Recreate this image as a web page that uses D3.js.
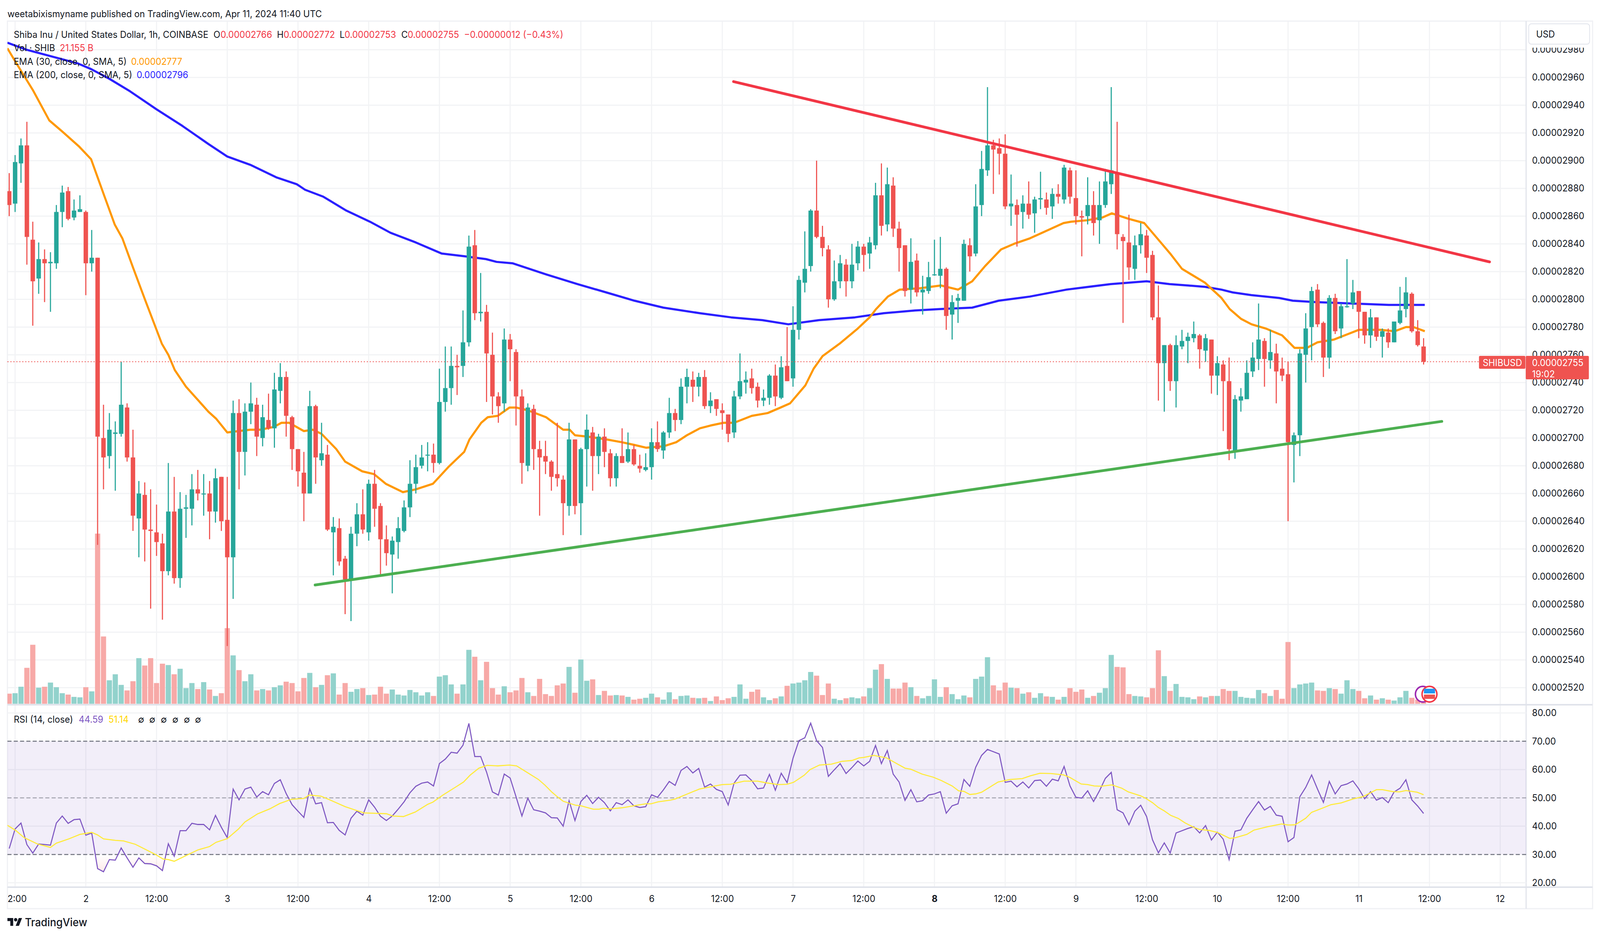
<!DOCTYPE html>
<html><head><meta charset="utf-8">
<script src="https://cdn.jsdelivr.net/npm/d3@7"></script>
<style>html,body{margin:0;padding:0;background:#fff;width:100%;height:100%;overflow:hidden}svg{display:block;width:100vw;height:100vh}text{font-family:Inter,"Noto Sans","DejaVu Sans",sans-serif;fill:#131722}</style>
</head><body><svg id="c" viewBox="0 0 4310 2396" preserveAspectRatio="none"></svg>
<script>
// Prices are in units of 1e-8 USD. Index 0 = Apr 1 11:00, one candle per hour.
const opens=[2878,2869,2898,2911,2843,2815,2829,2826,2826,2863,
2878,2859,2863,2863,2826,2830,2700,2687,2703,2703,
2722,2686,2642,2659,2634,2632,2624,2604,2647,2599,
2649,2649,2663,2660,2660,2647,2672,2641,2614,2718,
2690,2719,2724,2700,2713,2707,2734,2744,2715,2692,
2675,2660,2723,2684,2688,2632,2635,2613,2598,2631,
2645,2632,2667,2651,2627,2616,2625,2633,2650,2667,
2680,2688,2688,2682,2726,2736,2752,2752,2769,2839,
2790,2791,2760,2730,2725,2771,2762,2730,2680,2721,
2692,2687,2683,2674,2670,2651,2699,2653,2692,2704,
2687,2701,2689,2671,2687,2683,2692,2680,2677,2679,
2697,2691,2704,2718,2713,2737,2742,2737,2744,2723,
2728,2720,2717,2704,2730,2740,2743,2737,2727,2729,
2745,2729,2752,2743,2778,2812,2824,2864,2845,2836,
2800,2813,2825,2813,2826,2838,2833,2839,2875,2854,
2882,2851,2839,2807,2828,2805,2806,2818,2817,2822,
2789,2799,2799,2839,2833,2868,2893,2911,2909,2905,
2867,2868,2863,2869,2862,2872,2872,2867,2876,2872,
2893,2873,2860,2860,2868,2857,2868,2883,2891,2845,
2841,2822,2839,2846,2832,2787,2754,2767,2741,2766,
2770,2772,2774,2763,2771,2745,2753,2741,2691,2727,
2728,2748,2757,2770,2756,2761,2750,2746,2695,2702,
2760,2780,2807,2783,2758,2801,2779,2795,2797,2806,
2791,2774,2787,2773,2776,2769,2783,2793,2804,2777,
2766];
const closes=[2868,2899,2911,2845,2813,2829,2826,2827,2863,2877,
2858,2864,2865,2826,2830,2701,2686,2706,2704,2724,
2686,2644,2660,2634,2633,2625,2604,2647,2599,2649,
2650,2663,2660,2660,2647,2671,2640,2614,2718,2690,
2719,2725,2701,2715,2707,2735,2744,2716,2692,2676,
2660,2723,2686,2689,2634,2636,2611,2598,2631,2645,
2634,2667,2649,2627,2617,2626,2635,2650,2667,2679,
2686,2688,2682,2726,2736,2752,2751,2769,2838,2790,
2791,2761,2730,2723,2771,2764,2730,2682,2722,2692,
2686,2683,2672,2671,2653,2699,2651,2692,2706,2687,
2701,2690,2671,2687,2682,2692,2681,2678,2679,2697,
2692,2704,2718,2713,2737,2744,2737,2744,2723,2727,
2721,2718,2703,2730,2741,2742,2736,2727,2729,2745,
2730,2751,2741,2778,2814,2822,2864,2845,2837,2800,
2813,2826,2813,2825,2838,2832,2841,2875,2853,2883,
2851,2837,2806,2827,2805,2807,2816,2818,2822,2788,
2798,2801,2840,2831,2867,2894,2911,2908,2905,2867,
2869,2861,2869,2861,2872,2873,2866,2876,2874,2895,
2874,2860,2859,2868,2855,2868,2885,2893,2847,2842,
2823,2839,2847,2830,2787,2754,2767,2741,2767,2770,
2773,2775,2764,2772,2745,2754,2741,2692,2728,2730,
2747,2758,2771,2757,2762,2748,2745,2697,2702,2761,
2779,2806,2782,2758,2801,2777,2795,2795,2805,2791,
2774,2787,2773,2777,2769,2784,2792,2805,2777,2767,
2755];
const highs=[2891,2904,2916,2928,2856,2841,2836,2834,2868,2882,
2881,2872,2875,2864,2850,2830,2724,2718,2712,2755,
2725,2706,2669,2668,2663,2652,2631,2682,2672,2661,
2659,2674,2677,2674,2669,2678,2672,2672,2727,2728,
2725,2740,2729,2724,2732,2747,2754,2748,2716,2692,
2690,2734,2724,2711,2695,2643,2642,2615,2636,2653,
2663,2670,2677,2653,2637,2629,2643,2655,2684,2688,
2695,2697,2696,2750,2766,2766,2760,2792,2846,2850,
2819,2796,2776,2733,2779,2775,2764,2735,2725,2724,
2698,2698,2684,2711,2673,2711,2699,2693,2717,2708,
2703,2707,2692,2689,2707,2704,2695,2688,2689,2707,
2712,2705,2729,2721,2743,2750,2748,2747,2749,2733,
2728,2725,2717,2734,2761,2748,2750,2740,2735,2746,
2753,2759,2780,2795,2817,2849,2865,2900,2853,2839,
2828,2832,2829,2840,2842,2840,2845,2884,2898,2895,
2888,2856,2839,2844,2833,2817,2827,2843,2845,2823,
2803,2804,2843,2844,2883,2907,2953,2915,2916,2919,
2890,2872,2875,2885,2874,2892,2877,2880,2883,2897,
2895,2893,2864,2888,2878,2885,2894,2953,2928,2847,
2861,2846,2855,2850,2835,2810,2767,2768,2774,2778,
2776,2784,2775,2775,2771,2759,2756,2758,2731,2736,
2756,2769,2797,2772,2778,2768,2758,2755,2704,2764,
2790,2809,2811,2784,2803,2804,2797,2829,2814,2806,
2791,2793,2787,2779,2779,2784,2809,2816,2805,2785,
2772];
const lows=[2860,2863,2884,2825,2781,2804,2798,2791,2822,2852,
2857,2857,2863,2803,2820,2623,2663,2678,2662,2701,
2683,2633,2614,2611,2577,2615,2569,2601,2595,2592,
2628,2637,2655,2644,2627,2639,2633,2550,2584,2663,
2673,2710,2687,2694,2706,2693,2725,2701,2677,2665,
2640,2660,2667,2680,2633,2601,2608,2573,2568,2622,
2631,2626,2636,2600,2608,2588,2613,2632,2643,2660,
2678,2676,2675,2681,2719,2724,2731,2744,2766,2785,
2784,2726,2717,2711,2719,2741,2709,2667,2676,2677,
2644,2674,2662,2665,2630,2644,2645,2630,2665,2662,
2674,2679,2665,2665,2682,2682,2680,2675,2676,2670,
2690,2685,2700,2705,2710,2725,2726,2730,2721,2718,
2716,2706,2697,2700,2728,2732,2732,2722,2723,2724,
2723,2728,2741,2737,2771,2805,2820,2844,2831,2794,
2799,2808,2802,2808,2821,2820,2822,2836,2846,2849,
2845,2820,2802,2797,2802,2789,2804,2817,2808,2778,
2771,2783,2799,2820,2831,2860,2889,2876,2890,2865,
2853,2838,2851,2858,2848,2865,2861,2858,2869,2869,
2869,2854,2831,2854,2846,2840,2866,2876,2836,2783,
2814,2814,2833,2819,2785,2727,2719,2734,2722,2764,
2754,2769,2750,2755,2732,2731,2705,2684,2685,2719,
2728,2744,2749,2737,2750,2725,2741,2640,2668,2687,
2740,2756,2780,2744,2750,2775,2772,2794,2793,2772,
2768,2765,2770,2758,2765,2769,2782,2787,2776,2766,
2753];
// Volume in billions of SHIB
const volumes=[44,46,74,156,256,70,74,92,72,46,
40,30,28,72,54,738,292,102,128,82,
58,98,198,166,198,90,174,168,128,152,
68,90,64,94,62,34,46,328,210,146,
98,128,58,64,58,72,80,96,90,54,
112,134,72,82,124,132,40,90,52,64,
68,38,40,74,44,62,40,36,60,50,
36,50,34,118,124,84,44,84,234,204,
102,182,68,40,76,50,58,112,50,34,
108,42,34,80,88,160,48,192,100,106,
38,56,36,38,36,30,18,22,26,44,
28,18,50,20,34,36,26,24,26,12,
32,16,24,30,84,22,52,62,28,16,
24,32,78,88,92,102,138,122,38,88,
22,16,24,28,24,32,68,148,172,108,
66,66,92,72,34,24,34,106,30,72,
42,20,36,28,108,118,202,80,58,92,
70,68,44,50,26,46,32,30,18,30,
68,52,62,26,34,48,68,212,160,158,
42,34,32,28,68,232,120,56,86,30,
28,20,32,28,34,34,64,56,56,30,
26,24,60,46,34,60,22,268,68,84,
88,92,58,56,68,64,44,102,64,56,
24,36,18,24,18,14,28,56,26,18,
21];
const rsiValues=[32.1,39.0,41.1,33.5,30.5,33.7,33.5,33.3,41.1,43.6,
41.0,42.3,42.5,36.8,37.6,25.0,23.9,28.2,28.0,32.3,
28.8,25.5,28.8,26.8,26.7,26.0,24.3,33.8,29.4,38.4,
38.4,41.0,40.6,40.6,38.7,43.8,39.6,35.9,53.1,49.3,
53.1,53.8,50.3,52.2,51.1,55.1,56.4,51.5,47.6,45.3,
43.1,53.2,47.9,48.3,41.2,41.3,38.5,36.9,42.8,45.3,
43.9,49.3,46.7,43.5,42.0,43.6,46.0,48.6,51.8,54.1,
55.2,55.6,54.2,62.1,63.7,66.1,65.8,68.6,76.3,64.6,
64.6,59.1,52.1,51.0,58.4,57.0,50.4,43.6,49.9,45.8,
45.3,44.7,43.0,42.9,40.0,49.0,42.0,48.7,50.9,48.0,
50.2,48.3,45.4,48.3,47.6,49.3,47.2,46.6,46.9,51.1,
50.2,52.8,55.8,54.4,59.7,61.1,58.8,60.4,53.8,54.9,
53.0,52.2,47.5,55.2,58.0,58.1,56.1,53.2,53.5,58.3,
52.7,58.7,55.4,64.0,70.2,71.2,76.4,70.2,67.8,57.6,
59.9,62.1,58.6,60.7,63.0,61.3,62.9,68.5,62.1,66.7,
58.4,55.6,49.1,52.9,48.6,49.0,51.0,51.4,52.2,44.6,
47.2,47.9,56.5,54.1,60.8,65.0,67.1,66.3,65.5,55.5,
55.9,53.9,55.6,53.5,56.1,56.3,54.1,56.6,56.0,61.1,
54.2,50.2,49.9,52.5,48.7,52.5,56.9,59.0,45.8,44.7,
40.5,45.3,47.4,43.4,35.2,30.6,34.1,30.5,37.6,38.4,
39.2,39.8,37.6,40.2,35.1,37.9,35.4,28.2,38.2,38.7,
42.8,45.8,48.7,45.7,47.0,43.9,43.5,34.5,36.0,50.4,
53.7,58.1,53.1,48.4,55.8,51.4,54.3,54.9,56.0,53.2,
49.7,52.2,49.2,50.1,48.3,52.1,53.4,56.4,49.3,47.1,
44.5];
// Readings of the smoothed lines as [candle index, value]
const ema30=[[-0.3,2981],[1.1,2971],[4,2951],[6.8,2929],[9,2921],[11.9,2910],[13.9,2901],[16.1,2875],[17.9,2854],[19.2,2844],[21,2823],[23.2,2798],[25.9,2768],[27,2760],[28.1,2749],[30,2737],[33.8,2719],[35.1,2714],[37,2704],[38.9,2705],[40.9,2706],[42.6,2706],[44.9,2708],[46.2,2711],[47.5,2711],[50,2705],[51.5,2706],[53,2703],[55.5,2692],[57,2683],[59.9,2676],[61.9,2674],[63.9,2667],[66.8,2661],[69,2663],[71.9,2667],[74.5,2679],[77.2,2690],[78.1,2699],[80.1,2711],[81.2,2715],[82.9,2716],[84.9,2722],[86,2722],[88,2720],[91.1,2715],[94,2706],[95.1,2706],[96,2702],[98.2,2701],[101.3,2699],[103.9,2697],[106.1,2695],[108.1,2693],[111,2694],[113.2,2697],[115,2702],[117.2,2707],[119,2709],[121.2,2711],[123,2711],[126,2716],[128.7,2718],[130.9,2722],[132.5,2725],[135.1,2738],[136.5,2750],[138,2759],[140.9,2768],[144,2779],[146,2787],[147.1,2793],[149.1,2802],[151.1,2807],[154.6,2808],[158.1,2810],[161,2807],[163.4,2813],[165.6,2824],[168.3,2836],[170.5,2840],[173.2,2844],[175.8,2849],[178.9,2855],[180.2,2856],[182.9,2857],[185.5,2859],[187.1,2862],[190,2858],[192.6,2855],[194.8,2844],[197,2833],[199,2822],[202.9,2812],[205.7,2801],[207.1,2793],[209,2786],[210.8,2782],[213.2,2779],[216,2774],[218.1,2765],[220.2,2765],[222,2769],[224.8,2771],[227.2,2775],[229,2778],[232.7,2778],[235.1,2777],[237,2780],[238.3,2780],[240.2,2777]];
const ema200=[[-0.3,2985],[2.9,2980],[7.3,2975],[11.7,2970],[13.9,2966],[17,2959],[20.5,2950],[25,2937],[29.4,2925],[33.8,2912],[37,2903],[40.9,2897],[45.3,2888],[48.8,2883],[50.2,2879],[53.3,2874],[57.2,2864],[61.2,2856],[64.7,2848],[69,2841],[73.4,2833],[77.4,2831],[80.9,2829],[82.7,2827],[85.4,2826],[91.1,2818],[96.4,2811],[101.3,2805],[106.1,2799],[111,2794],[117.2,2790],[122.5,2787],[127.8,2785],[132.2,2782],[137.4,2785],[143.5,2787],[148.4,2790],[153.7,2792],[158.1,2793],[163.4,2794],[167.9,2799],[173.2,2802],[179.4,2807],[186.9,2811],[193,2813],[196.9,2811],[200,2810],[202.9,2809],[205.7,2807],[207.6,2805],[210.8,2803],[215.5,2801],[217.8,2799],[221.6,2798],[234.1,2796],[240.2,2796]];
const rsiMA=[[-0.3,40.3],[1.1,38.5],[2.5,36],[4.8,33.7],[7,32.5],[8,34],[10.1,35.5],[12,37.1],[14,37.8],[15,36.9],[16,35.5],[18,35],[19.4,34.8],[21.4,33.6],[23.5,31.4],[24.9,29.9],[26.1,28.4],[27,28.2],[28,27.6],[30.2,29.8],[32,31.6],[34,32.8],[35.1,34.3],[37,35.6],[38.9,39],[40,41.5],[42.1,44.3],[44.2,46.1],[45.9,48],[47.9,49.5],[50,49.8],[50.9,51],[52.9,50.6],[54.4,49.3],[57,46.9],[59,45.5],[60.2,44.7],[64,44.4],[65.1,43.6],[66.9,43.4],[68.9,45],[71,47.7],[71.9,48.5],[73.6,51],[75.9,54],[77.1,55.6],[78.2,58],[79.7,60.5],[81.1,61.5],[82.9,61.3],[84.9,61.6],[86.1,61.3],[87.8,59.1],[89.8,56.5],[90.9,54.5],[92.1,52],[93,50.4],[94,48.8],[96.1,47.4],[97,47.2],[99.1,46],[100.1,46],[100.8,46.3],[102,46.1],[104,46.5],[106,47.2],[108,47.9],[108.9,47.9],[110.1,48.6],[112.2,49.2],[113,49.6],[115.1,51.4],[117.1,53.1],[119.5,54.1],[121,54.7],[122.4,54.8],[124.7,55.9],[127,55.9],[128.5,55.3],[130.5,54.7],[132,54.8],[133.1,55.5],[134.9,58],[135.9,60],[137.5,61.6],[139.5,61.9],[141.3,62.9],[143,63.2],[144.2,64.1],[145,64.3],[146.7,65],[148.9,64.1],[150.6,62.1],[152,60.5],[153,60.1],[154.9,58.4],[156.8,57.3],[158.2,56.1],[160,54.2],[161.1,52.5],[162,52.3],[163,51.2],[164,51.4],[165,52],[166.1,53.4],[167.8,55.6],[169.8,56.5],[171.9,56.8],[173.3,57.8],[174.9,58.7],[176.8,58.6],[178.9,58.1],[180,57.2],[181.9,54.9],[183,54.7],[184.1,54.2],[185.3,54.1],[187.1,54.6],[188.8,53.4],[189.9,52.1],[192,50.7],[192.8,49.9],[194,48.3],[195,46.6],[196,45.4],[197.1,43.8],[198.4,42.7],[199.5,41.2],[201,39.6],[201.9,38.9],[203.6,38.5],[205,37.8],[205.9,36.9],[207.1,35.7],[208,35.9],[210,37.1],[211.2,38.6],[213.5,39.8],[215,40.4],[215.9,40.8],[217,40.4],[218.2,40.5],[219,41.5],[220,42.8],[221,44.9],[223,46.5],[224.3,47.6],[226,48.2],[228,49.6],[229.8,50.5],[230.7,51.5],[232,52.9],[233,52.9],[234.8,52.2],[235.9,52.1],[237,52.6],[238.9,52],[240,51.1]];
const resistance=[[122.9,2957],[251.2,2827]];
const support=[[51.9,2594],[243.1,2712]];
const priceTicks=[2520,2540,2560,2580,2600,2620,2640,2660,2680,2700,2720,2740,2760,2780,2800,2820,2840,2860,2880,2900,2920,2940,2960,2980];
const rsiTicks=[20,30,40,50,60,70,80];
const timeTicks=[1,13,25,37,49,61,73,85,97,109,121,133,145,157,169,181,193,205,217,229,241,253];
const timeLabels=["12:00","2","12:00","3","12:00","4","12:00","5","12:00","6","12:00","7","12:00","8","12:00","9","12:00","10","12:00","11","12:00","12"];
const boldTime="8";
const lastClose=2755;

const GREEN="#26A69A",RED="#EF5350",GRID="#F2F3F5",SEP="#E0E3EB",FS=24;
const L=20,R=4111,PT=54,PB=1803,RT=1805,RB=2271,FB=2326,FR=4290;
const x=d3.scaleLinear().domain([0,240]).range([24.8,3834.8]);
const y=d3.scaleLinear().domain([2520,2960]).range([1760.3,198.2]);
const v=d3.scaleLinear().domain([0,738]).range([1801.6,1366]);
const r=d3.scaleLinear().domain([20,80]).range([2259.8,1825]);
const svg=d3.select("#c");
const defs=svg.append("defs");
defs.append("clipPath").attr("id","main").append("rect").attr("x",L).attr("y",PT).attr("width",R-L).attr("height",PB-PT);
defs.append("clipPath").attr("id","rsi").append("rect").attr("x",L).attr("y",RT).attr("width",R-L).attr("height",RB-RT);
defs.append("clipPath").attr("id","time").append("rect").attr("x",L).attr("y",RB).attr("width",FR-L).attr("height",FB-RB);
defs.append("clipPath").attr("id","over").append("rect").attr("x",L).attr("y",RT).attr("width",R-L).attr("height",r(70)-RT);
defs.append("clipPath").attr("id","under").append("rect").attr("x",L).attr("y",r(30)).attr("width",R-L).attr("height",RB-r(30));
const g1=defs.append("linearGradient").attr("id","gOver").attr("gradientUnits","userSpaceOnUse").attr("x1",0).attr("x2",0).attr("y1",r(80)).attr("y2",r(70));
g1.append("stop").attr("offset",0).attr("stop-color","#4CAF50").attr("stop-opacity",.16);
g1.append("stop").attr("offset",1).attr("stop-color","#4CAF50").attr("stop-opacity",0);
const g2=defs.append("linearGradient").attr("id","gUnder").attr("gradientUnits","userSpaceOnUse").attr("x1",0).attr("x2",0).attr("y1",r(30)).attr("y2",r(20));
g2.append("stop").attr("offset",0).attr("stop-color","#FF5252").attr("stop-opacity",0);
g2.append("stop").attr("offset",1).attr("stop-color","#FF5252").attr("stop-opacity",.2);

const candles=opens.map((o,i)=>({i,o,c:closes[i],h:highs[i],l:lows[i],vol:volumes[i],up:closes[i]>=o}));

// Grid
const vg=svg.append("g").attr("stroke",GRID).attr("stroke-width",3);
[[PT,PB],[RT,RB]].forEach(([a,b])=>vg.append("g").selectAll("line").data(timeTicks).join("line").attr("x1",d=>x(d)).attr("x2",d=>x(d)).attr("y1",a).attr("y2",b));
svg.append("g").attr("clip-path","url(#main)").selectAll("line").data(priceTicks).join("line").attr("x1",L).attr("x2",R).attr("y1",d=>y(d)).attr("y2",d=>y(d)).attr("stroke",GRID).attr("stroke-width",3);

// Frame
svg.append("rect").attr("x",L).attr("y",PT).attr("width",FR-L).attr("height",FB-PT).attr("fill","none").attr("stroke","#EFF0F4").attr("stroke-width",3);

// Price pane: indicators under the candles, price line over them
const main=svg.append("g").attr("clip-path","url(#main)");
main.append("g").selectAll("rect").data(candles).join("rect")
 .attr("x",d=>x(d.i)-7).attr("width",14).attr("y",d=>v(d.vol)).attr("height",d=>v(0)-v(d.vol))
 .attr("fill",d=>d.up?"#92D2CC":"#F7A9A7");
const lineGen=d3.line().x(d=>x(d[0])).y(d=>y(d[1])).curve(d3.curveLinear);
main.append("path").datum(ema200).attr("d",lineGen).attr("fill","none").attr("stroke","#2A1FFF").attr("stroke-width",5.5).attr("stroke-linejoin","round");
main.append("path").datum(ema30).attr("d",lineGen).attr("fill","none").attr("stroke","#FF9800").attr("stroke-width",5.5).attr("stroke-linejoin","round");
main.append("g").selectAll("line").data(candles).join("line")
 .attr("x1",d=>x(d.i)).attr("x2",d=>x(d.i)).attr("y1",d=>y(d.h)).attr("y2",d=>y(d.l))
 .attr("stroke",d=>d.up?GREEN:RED).attr("stroke-width",3);
main.append("g").selectAll("rect").data(candles).join("rect")
 .attr("x",d=>x(d.i)-6).attr("width",12).attr("y",d=>y(Math.max(d.o,d.c))).attr("height",d=>Math.max(2.5,Math.abs(y(d.o)-y(d.c))))
 .attr("fill",d=>d.up?GREEN:RED);
main.append("line").attr("x1",L).attr("x2",3984).attr("y1",y(lastClose)).attr("y2",y(lastClose)).attr("stroke",RED).attr("stroke-width",2).attr("stroke-dasharray","3 5");
main.append("path").datum(resistance).attr("d",lineGen).attr("fill","none").attr("stroke","#F23645").attr("stroke-width",7).attr("stroke-linecap","round");
main.append("path").datum(support).attr("d",lineGen).attr("fill","none").attr("stroke","#4CAF50").attr("stroke-width",7).attr("stroke-linecap","round");

// Event icons
const ic=svg.append("g");
ic.append("circle").attr("cx",x(240)-2).attr("cy",1777).attr("r",20).attr("fill","#fff").attr("stroke","#9C27B0").attr("stroke-width",4);
ic.append("circle").attr("cx",x(241)).attr("cy",1777).attr("r",20).attr("fill","#fff").attr("stroke","#F23645").attr("stroke-width",4);
ic.append("rect").attr("x",x(241)-15).attr("y",1763).attr("width",30).attr("height",12).attr("fill","#2196F3");
ic.append("rect").attr("x",x(241)-15).attr("y",1778).attr("width",30).attr("height",11).attr("fill","#EF5350");

// Separators and right axis rule
svg.append("line").attr("x1",L).attr("x2",FR).attr("y1",1804).attr("y2",1804).attr("stroke",SEP).attr("stroke-width",4);
svg.append("line").attr("x1",L).attr("x2",FR).attr("y1",RB).attr("y2",RB).attr("stroke",SEP).attr("stroke-width",4);
svg.append("line").attr("x1",R).attr("x2",R).attr("y1",PT).attr("y2",FB).attr("stroke",SEP).attr("stroke-width",3);

// RSI pane
const rp=svg.append("g").attr("clip-path","url(#rsi)");
rp.append("rect").attr("x",L).attr("width",R-L).attr("y",r(70)).attr("height",r(30)-r(70)).attr("fill","#7E57C2").attr("fill-opacity",.1);
rp.append("g").selectAll("line").data([20,40,60,80]).join("line").attr("x1",L).attr("x2",R).attr("y1",d=>r(d)).attr("y2",d=>r(d)).attr("stroke",GRID).attr("stroke-width",3).attr("style","mix-blend-mode:multiply");
rp.append("g").selectAll("line").data([70,50,30]).join("line").attr("x1",L).attr("x2",R).attr("y1",d=>r(d)).attr("y2",d=>r(d)).attr("stroke","#787B86").attr("stroke-opacity",d=>d===50?.6:1).attr("stroke-width",2.8).attr("stroke-dasharray","11 6");
const rsiPts=rsiValues.map((d,i)=>[i,d]);
rp.append("path").attr("clip-path","url(#over)").datum(rsiPts).attr("d",d3.area().x(d=>x(d[0])).y0(r(70)).y1(d=>r(d[1]))).attr("fill","url(#gOver)");
rp.append("path").attr("clip-path","url(#under)").datum(rsiPts).attr("d",d3.area().x(d=>x(d[0])).y0(r(30)).y1(d=>r(d[1]))).attr("fill","url(#gUnder)");
const rLine=d3.line().x(d=>x(d[0])).y(d=>r(d[1]));
rp.append("path").datum(rsiPts).attr("d",rLine).attr("fill","none").attr("stroke","#7E57C2").attr("stroke-width",2.8);
rp.append("path").datum(rsiMA).attr("d",rLine).attr("fill","none").attr("stroke","#FFEB3B").attr("stroke-width",2.8);

// Axes
const styleAxis=g=>{g.select(".domain").remove();g.selectAll("text").style("font-size",FS+"px").attr("fill","#131722");};
svg.append("g").attr("transform",`translate(${R+16},0)`).call(d3.axisRight(y).tickValues(priceTicks).tickSize(0).tickPadding(0).tickFormat(d=>(d*1e-8).toFixed(8))).call(styleAxis);
svg.append("g").attr("transform",`translate(${R+16},0)`).call(d3.axisRight(r).tickValues(rsiTicks).tickSize(0).tickPadding(0).tickFormat(d3.format(".2f"))).call(styleAxis);
const tx=svg.append("g").attr("clip-path","url(#time)").append("g").attr("transform",`translate(0,${2300-8})`)
 .call(d3.axisBottom(x).tickValues(timeTicks).tickSize(0).tickPadding(0).tickFormat((d,i)=>timeLabels[i])).call(styleAxis);
tx.selectAll("text").attr("font-weight",(d,i)=>timeLabels[i]===boldTime?700:400);
svg.append("rect").attr("x",R+2).attr("y",PT+2).attr("width",FR-R-4).attr("height",66).attr("fill","#fff");

// Price labels and currency box
const T=(s,px,py,fill)=>{const e=svg.append("text").attr("x",px).attr("y",py).attr("dy",".36em").style("font-size",FS+"px").text(s);if(fill)e.style("fill",fill);return e;};
svg.append("rect").attr("x",3984).attr("y",911).attr("width",125).attr("height",33).attr("rx",3).attr("fill",RED);
svg.append("rect").attr("x",4110).attr("y",911).attr("width",170).attr("height",60).attr("rx",3).attr("fill",RED);
T("SHIBUSD",3994,928,"#fff");
T((lastClose*1e-8).toFixed(8),4127,928,"#fff");
T("19:02",4127,957,"#fff");
svg.append("rect").attr("x",4118).attr("y",61).attr("width",164).attr("height",52).attr("rx",7).attr("fill","#fff").attr("stroke",SEP).attr("stroke-width",2);
T("USD",4138,87);

// Legends
T("weetabixismyname published on TradingView.com, Apr 11, 2024 11:40 UTC",20,35);
T("Shiba Inu / United States Dollar, 1h, COINBASE",37,88.5);
[["O",575,"0.00002766",594],["H",746,"0.00002772",764],["L",915,"0.00002753",928],["C",1081,"0.00002755",1098]].forEach(a=>{T(a[0],a[1],88.5);T(a[2],a[3],88.5,"#F23645");});
T("−0.00000012 (−0.43%)",1250,88.5,"#F23645");
T("Vol · SHIB",37,122.5);T("21.155 B",161,122.5,"#F23645");
T("EMA (30, close, 0, SMA, 5)",37,157);T("0.00002777",353,157,"#FF9800");
T("EMA (200, close, 0, SMA, 5)",37,191);T("0.00002796",368,191,"#2A1FFF");
T("RSI (14, close)",37,1841);T("44.59",212,1841,"#7E57C2");T("51.14",292,1841,"#FFD600");
[372,402,433,464,495,525].forEach(px=>T("∅",px,1841));

// Footer logo
const logo=svg.append("g").attr("transform","translate(20,2345.5) scale(1.11)");
logo.append("path").attr("d","M14 22H7V11H0V4h14v18zM28 22h-8l7.5-18h8L28 22z").attr("fill","#131722");
logo.append("circle").attr("cx",20).attr("cy",8).attr("r",4).attr("fill","#131722");
T("TradingView",67,2361).style("font-size","28px").style("font-weight",500);
</script></body></html>
